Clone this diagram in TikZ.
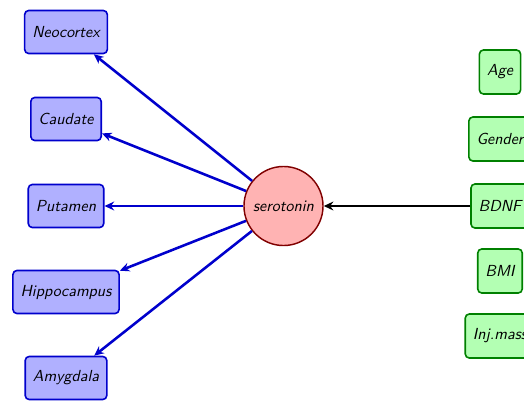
\documentclass[tikz,border=0pt]{standalone}
\usetikzlibrary{arrows.meta}
\definecolor{bfill}{HTML}{B0B0FF}
\definecolor{bdraw}{HTML}{0000CC}
\definecolor{rfill}{HTML}{FFB3B3}
\definecolor{rdraw}{HTML}{800000}
\definecolor{gfill}{HTML}{B3FFB3}
\definecolor{gdraw}{HTML}{008000}
\begin{document}
\begin{tikzpicture}[x=0.625pt,y=-0.625pt,
  every node/.style={font=\sffamily\itshape},
  region/.style={draw=bdraw,fill=bfill,line width=1pt,rounded corners=2.5pt,minimum height=26.9pt,inner xsep=4.8pt},
  covar/.style={draw=gdraw,fill=gfill,line width=1pt,rounded corners=2.5pt,minimum height=27.5pt,inner xsep=4.8pt},
  hub/.style={circle,draw=rdraw,fill=rfill,line width=0.9pt,minimum size=49.4pt,inner sep=0pt},
  outarrow/.style={draw=bdraw,line width=1.6pt,-{Stealth[length=6pt,width=5.5pt]}},
  inarrow/.style={draw=black,line width=1.6pt,-{Stealth[length=6pt,width=5.5pt]}}]
\begin{scope}
\clip (0,0) rectangle (524,400);
\useasboundingbox (0,0) rectangle (524,400);
\node[hub] (s) at (283.5,206) {serotonin};
\node[region] (neo) at (66,32) {Neocortex};
\node[region] (cau) at (66,119) {Caudate};
\node[region] (put) at (66,206) {Putamen};
\node[region] (hip) at (66,292) {Hippocampus};
\node[region] (amy) at (66,378) {Amygdala};
\node[covar] (age) at (500,72) {Age};
\node[covar] (gen) at (500,139) {Gender};
\node[covar] (bdnf) at (500,206) {BDNF};
\node[covar] (bmi) at (500,271) {BMI};
\node[covar] (inj) at (500,336) {Inj.mass};
\draw[outarrow] (s) -- (neo);
\draw[outarrow] (s) -- (cau);
\draw[outarrow] (s) -- (put);
\draw[outarrow] (s) -- (hip);
\draw[outarrow] (s) -- (amy);
\draw[inarrow] (bdnf) -- (s);
\end{scope}
\end{tikzpicture}
\end{document}
